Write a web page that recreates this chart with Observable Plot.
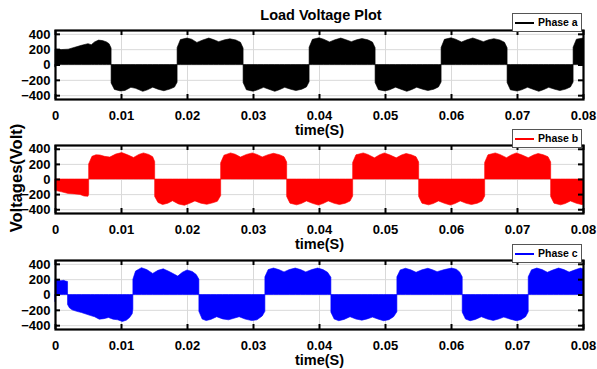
<!DOCTYPE html>
<html><head><meta charset="utf-8">
<script src="https://cdn.jsdelivr.net/npm/d3@7"></script>
<script src="https://cdn.jsdelivr.net/npm/@observablehq/plot@0.6"></script>
<style>
body{margin:0;background:#fff;}
#wrap{position:relative;width:597px;height:369px;overflow:hidden;font-family:"Liberation Sans",Arial,sans-serif;font-weight:bold;color:#000;}
#wrap svg{position:absolute;left:0;}
.title{position:absolute;left:0;width:642px;top:7px;text-align:center;font-size:14.5px;}
.ylab{position:absolute;left:16px;top:178px;transform:translate(-50%,-50%) rotate(-90deg);font-size:16.5px;white-space:nowrap;}
.legend{position:absolute;left:512px;width:68px;height:17px;background:#fff;border:1px solid #555;font-size:10.5px;line-height:17px;}
.legend .sw{position:absolute;left:2px;top:8px;width:19px;height:0;border-top:2px solid;}
.legend .lt{position:absolute;left:25px;top:0;}
</style></head><body><div id="wrap"></div>
<script>
const title = "Load Voltage Plot";
const yLabel = "Voltages(Volt)";
const xLabel = "time(S)";
const seriesNames = ["Phase a", "Phase b", "Phase c"];
const seriesColors = ["#000000", "#ff0000", "#0000ff"];
const xTicks = [0, 0.01, 0.02, 0.03, 0.04, 0.05, 0.06, 0.07, 0.08];
const xTickLabels = ["0", "0.01", "0.02", "0.03", "0.04", "0.05", "0.06", "0.07", "0.08"];
const yTicks = [-400, -200, 0, 200, 400];

// envelope of the PWM voltage [time (s), voltage (V)]
const phaseA = [
[0,-30],[0,200],[0.001,195],[0.002,200],[0.003,225],[0.004,250],[0.005,272],[0.0055,258],[0.006,295],[0.0066,318],[0.0072,312],[0.0078,295],[0.0082,270],[0.0085,215],
[0.0085,-240],[0.009,-325],[0.0099,-345],[0.0106,-338],[0.0115,-298],[0.0122,-310],[0.0133,-350],[0.014,-330],[0.0148,-296],[0.0157,-325],[0.0165,-342],[0.0174,-320],[0.0181,-295],[0.0185,-230],
[0.0185,220],[0.019,325],[0.02,345],[0.0207,330],[0.0215,288],[0.0224,320],[0.0233,345],[0.024,325],[0.0248,298],[0.0257,322],[0.0265,335],[0.0274,320],[0.0281,290],[0.0285,215],
[0.0285,-235],[0.029,-330],[0.03,-348],[0.0307,-330],[0.0316,-298],[0.0324,-322],[0.0333,-350],[0.034,-328],[0.0348,-298],[0.0357,-322],[0.0365,-340],[0.0374,-322],[0.0381,-292],[0.0385,-225],
[0.0385,225],[0.039,328],[0.04,348],[0.0407,330],[0.0416,295],[0.0424,322],[0.0433,345],[0.044,325],[0.0449,298],[0.0457,322],[0.0465,338],[0.0474,322],[0.0481,292],[0.0485,220],
[0.0485,-235],[0.049,-328],[0.05,-345],[0.0507,-330],[0.0516,-296],[0.0524,-322],[0.0533,-350],[0.054,-328],[0.0548,-297],[0.0557,-322],[0.0565,-340],[0.0574,-322],[0.0581,-292],[0.0585,-228],
[0.0585,222],[0.059,328],[0.06,348],[0.0607,330],[0.0616,294],[0.0624,322],[0.0633,346],[0.064,326],[0.0649,298],[0.0657,322],[0.0665,337],[0.0674,320],[0.0681,290],[0.0685,218],
[0.0685,-235],[0.069,-330],[0.07,-346],[0.0707,-330],[0.0716,-297],[0.0724,-322],[0.0733,-350],[0.074,-328],[0.0748,-298],[0.0757,-322],[0.0765,-340],[0.0774,-320],[0.0781,-292],[0.0785,-228],
[0.0785,225],[0.079,330],[0.08,345]
];
const phaseB = [
[0,-150],[0.001,-170],[0.002,-192],[0.003,-198],[0.0038,-205],[0.0044,-225],[0.005,-228],[0.0051,-200],
[0.0051,200],[0.0056,300],[0.0062,320],[0.0068,318],[0.0075,300],[0.0083,290],[0.0092,330],[0.0101,350],[0.011,320],[0.0119,285],[0.0127,325],[0.0134,345],[0.0142,325],[0.0148,295],[0.0151,230],
[0.0151,-230],[0.0156,-310],[0.0163,-338],[0.0171,-320],[0.0178,-288],[0.0187,-330],[0.0196,-348],[0.0204,-322],[0.0212,-290],[0.0221,-320],[0.023,-335],[0.0239,-315],[0.0246,-295],[0.0251,-220],
[0.0251,215],[0.0256,315],[0.0266,345],[0.0273,328],[0.0281,290],[0.029,325],[0.0299,345],[0.0306,325],[0.0314,292],[0.0323,322],[0.0331,340],[0.034,322],[0.0347,295],[0.0351,225],
[0.0351,-230],[0.0356,-320],[0.0366,-342],[0.0373,-325],[0.0381,-290],[0.039,-322],[0.0399,-345],[0.0406,-325],[0.0414,-290],[0.0423,-322],[0.0431,-338],[0.044,-320],[0.0447,-292],[0.0451,-225],
[0.0451,220],[0.0456,320],[0.0467,345],[0.0474,325],[0.0484,280],[0.0492,322],[0.0499,345],[0.0507,320],[0.0517,280],[0.0525,318],[0.0532,338],[0.054,320],[0.0547,295],[0.0551,225],
[0.0551,-230],[0.0556,-320],[0.0566,-342],[0.0573,-325],[0.0581,-290],[0.059,-322],[0.0599,-345],[0.0606,-325],[0.0614,-290],[0.0623,-322],[0.0631,-338],[0.064,-320],[0.0647,-292],[0.0651,-225],
[0.0651,220],[0.0656,320],[0.0667,345],[0.0674,325],[0.0684,282],[0.0692,322],[0.0699,345],[0.0707,320],[0.0717,282],[0.0725,318],[0.0732,338],[0.074,320],[0.0747,295],[0.0751,225],
[0.0751,-230],[0.0756,-320],[0.0766,-342],[0.0773,-325],[0.0781,-290],[0.079,-322],[0.0799,-340],[0.08,-335]
];
const phaseC = [
[0,-90],[0,205],[0.0004,190],[0.0009,180],[0.0013,185],[0.0016,175],[0.0019,170],
[0.0019,-130],[0.0022,-175],[0.0026,-200],[0.0033,-220],[0.004,-235],[0.0047,-255],[0.0054,-275],[0.006,-290],[0.0067,-322],[0.0074,-315],[0.0081,-300],[0.0088,-322],[0.0095,-330],[0.0102,-352],[0.0108,-335],[0.0113,-300],[0.0117,-250],[0.0118,-190],
[0.0118,200],[0.0122,305],[0.0131,350],[0.0139,325],[0.0148,275],[0.0156,315],[0.0164,335],[0.0173,300],[0.0186,240],[0.0193,290],[0.02,320],[0.0208,300],[0.0214,260],[0.0218,200],
[0.0218,-220],[0.0223,-320],[0.0229,-340],[0.0236,-325],[0.0245,-290],[0.0254,-318],[0.0263,-330],[0.0271,-310],[0.0279,-290],[0.0288,-320],[0.0298,-340],[0.0306,-330],[0.0314,-280],[0.0318,-220],
[0.0318,230],[0.0323,325],[0.0331,345],[0.0339,325],[0.0347,295],[0.0355,325],[0.0364,345],[0.0372,325],[0.038,295],[0.0389,325],[0.0398,345],[0.0406,325],[0.0413,290],[0.0418,225],
[0.0418,-230],[0.0423,-320],[0.043,-342],[0.0438,-325],[0.0447,-290],[0.0456,-320],[0.0465,-335],[0.0473,-318],[0.0481,-295],[0.049,-322],[0.0498,-342],[0.0506,-328],[0.0513,-290],[0.0518,-225],
[0.0518,230],[0.0523,320],[0.0531,342],[0.0539,322],[0.0547,290],[0.0556,322],[0.0565,342],[0.0572,322],[0.0579,298],[0.059,325],[0.0601,345],[0.0608,330],[0.0613,295],[0.0617,230],
[0.0617,-230],[0.0622,-320],[0.0629,-342],[0.0637,-325],[0.0646,-290],[0.0655,-320],[0.0664,-338],[0.0672,-320],[0.068,-295],[0.069,-322],[0.0699,-342],[0.0706,-328],[0.0713,-290],[0.0717,-225],
[0.0717,230],[0.0722,322],[0.073,345],[0.0738,325],[0.0746,290],[0.0755,322],[0.0763,345],[0.0771,325],[0.0779,292],[0.0788,322],[0.0796,345],[0.08,335]
];
const phases = [phaseA, phaseB, phaseC];

const wrap = document.getElementById("wrap");
// panel layout: svg top, svg height, marginTop, marginBottom
const panels = [
  {top: 0, height: 138, mt: 30, mb: 39},
  {top: 138, height: 115, mt: 7, mb: 40},
  {top: 253, height: 116, mt: 7, mb: 40}
];
const W = 597, ML = 55, MR = 14;
const innerW = W - ML - MR;

panels.forEach((p, i) => {
  const innerH = p.height - p.mt - p.mb;
  const data = phases[i].map(([t, v]) => ({t, v}));
  const color = seriesColors[i];
  const chart = Plot.plot({
    width: W, height: p.height,
    marginLeft: ML, marginRight: MR, marginTop: p.mt, marginBottom: p.mb,
    style: {background: "transparent", fontFamily: '"Liberation Sans", Arial, sans-serif', fontSize: "13px", fontWeight: "bold", color: "#000", overflow: "visible"},
    x: {domain: [0, 0.08]},
    y: {domain: [-450, 450]},
    marks: [
      Plot.gridX(xTicks, {stroke: "#d9d9d9", strokeOpacity: 1, strokeWidth: 1}),
      Plot.gridY(yTicks, {stroke: "#d9d9d9", strokeOpacity: 1, strokeWidth: 1}),
      Plot.areaY(data, {x: "t", y1: 0, y2: "v", fill: color, stroke: color, strokeWidth: 0.6, curve: "linear"}),
      Plot.tickX(xTicks, {x: d => d, insetTop: innerH - 5, stroke: "#000", strokeWidth: 2}),
      Plot.tickX(xTicks, {x: d => d, insetBottom: innerH - 5, stroke: "#000", strokeWidth: 2}),
      Plot.tickY(yTicks, {y: d => d, insetRight: innerW - 5, stroke: "#000", strokeWidth: 2}),
      Plot.tickY(yTicks, {y: d => d, insetLeft: innerW - 5, stroke: "#000", strokeWidth: 2}),
      Plot.frame({stroke: "#000", strokeWidth: 2.2}),
      Plot.axisX(xTicks, {tickSize: 0, tickPadding: 11, tickFormat: (d, k) => xTickLabels[k], label: null}),
      Plot.axisY(yTicks, {tickSize: 0, tickPadding: 5, label: null}),
      Plot.text([xLabel], {frameAnchor: "bottom", dy: 31, lineAnchor: "middle", fontSize: 14.5, fontWeight: "bold", fill: "#000"})
    ]
  });
  chart.style.top = p.top + "px";
  wrap.appendChild(chart);
});

const t = document.createElement("div");
t.className = "title"; t.textContent = title;
wrap.appendChild(t);
const yl = document.createElement("div");
yl.className = "ylab"; yl.textContent = yLabel;
wrap.appendChild(yl);
const legendTops = [13, 129, 244];
seriesNames.forEach((name, i) => {
  const lg = document.createElement("div");
  lg.className = "legend";
  lg.style.top = legendTops[i] + "px";
  const sw = document.createElement("div");
  sw.className = "sw"; sw.style.borderTopColor = seriesColors[i];
  const lt = document.createElement("div");
  lt.className = "lt"; lt.textContent = name;
  lg.appendChild(sw); lg.appendChild(lt);
  wrap.appendChild(lg);
});
</script>
</body></html>
